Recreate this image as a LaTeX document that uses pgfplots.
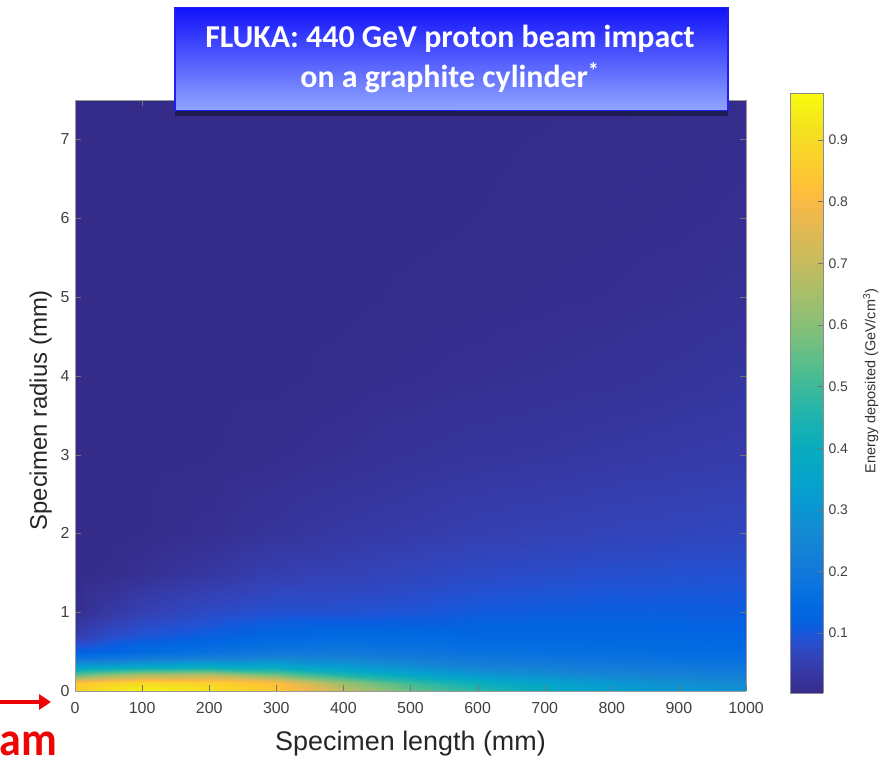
\documentclass[border=0pt]{standalone}
\usepackage{fontspec}
\setmainfont{Liberation Sans}
\newfontfamily\calibri{Carlito}
\usepackage{pgfplots}
\usepackage{pgfplotstable}
\pgfplotsset{compat=1.18}
\usetikzlibrary{shadows,arrows.meta}
\definecolor{tbtop}{rgb}{0.07,0.07,0.98}
\definecolor{tbbot}{rgb}{0.57,0.65,1.0}
\definecolor{tbedge}{rgb}{0.12,0.12,0.94}
\definecolor{beamred}{rgb}{0.93,0.02,0.02}
\pgfplotsset{colormap={parula}{
rgb=(0.2081,0.1663,0.5292) rgb=(0.2116,0.1898,0.5777) rgb=(0.2123,0.2138,0.6270) rgb=(0.2081,0.2386,0.6771)
rgb=(0.1959,0.2645,0.7279) rgb=(0.1707,0.2919,0.7792) rgb=(0.1253,0.3242,0.8303) rgb=(0.0591,0.3598,0.8683)
rgb=(0.0117,0.3875,0.8820) rgb=(0.0060,0.4086,0.8828) rgb=(0.0165,0.4266,0.8786) rgb=(0.0329,0.4430,0.8720)
rgb=(0.0498,0.4586,0.8641) rgb=(0.0629,0.4737,0.8554) rgb=(0.0723,0.4887,0.8467) rgb=(0.0779,0.5040,0.8384)
rgb=(0.0793,0.5200,0.8312) rgb=(0.0749,0.5375,0.8263) rgb=(0.0641,0.5570,0.8240) rgb=(0.0488,0.5772,0.8228)
rgb=(0.0343,0.5966,0.8199) rgb=(0.0265,0.6137,0.8135) rgb=(0.0239,0.6287,0.8038) rgb=(0.0231,0.6418,0.7913)
rgb=(0.0228,0.6535,0.7768) rgb=(0.0267,0.6642,0.7607) rgb=(0.0384,0.6743,0.7436) rgb=(0.0590,0.6838,0.7254)
rgb=(0.0843,0.6928,0.7062) rgb=(0.1133,0.7015,0.6859) rgb=(0.1453,0.7098,0.6646) rgb=(0.1801,0.7177,0.6424)
rgb=(0.2178,0.7250,0.6193) rgb=(0.2586,0.7317,0.5954) rgb=(0.3022,0.7376,0.5712) rgb=(0.3482,0.7424,0.5473)
rgb=(0.3953,0.7459,0.5244) rgb=(0.4420,0.7481,0.5033) rgb=(0.4871,0.7491,0.4840) rgb=(0.5300,0.7491,0.4661)
rgb=(0.5709,0.7485,0.4494) rgb=(0.6099,0.7473,0.4337) rgb=(0.6473,0.7456,0.4188) rgb=(0.6834,0.7435,0.4044)
rgb=(0.7184,0.7411,0.3905) rgb=(0.7525,0.7384,0.3768) rgb=(0.7858,0.7356,0.3633) rgb=(0.8185,0.7327,0.3498)
rgb=(0.8507,0.7299,0.3360) rgb=(0.8824,0.7274,0.3217) rgb=(0.9139,0.7258,0.3063) rgb=(0.9450,0.7261,0.2886)
rgb=(0.9739,0.7314,0.2666) rgb=(0.9938,0.7455,0.2403) rgb=(0.9990,0.7653,0.2164) rgb=(0.9955,0.7861,0.1967)
rgb=(0.9880,0.8066,0.1794) rgb=(0.9789,0.8271,0.1633) rgb=(0.9697,0.8481,0.1475) rgb=(0.9626,0.8705,0.1309)
rgb=(0.9589,0.8949,0.1132) rgb=(0.9598,0.9218,0.0948) rgb=(0.9661,0.9514,0.0755) rgb=(0.9763,0.9831,0.0538)
}}
% energy deposited (GeV/cm^3): x = length (mm), y = radius (mm)
\pgfplotstableread{
x y v
0 0 0.86
0 0.1 0.84
0 0.2 0.55
0 0.3 0.33
0 0.4 0.19
0 0.5 0.12
0 0.7 0.05
0 1.0 0.008
0 1.5 0.002
0 2.0 0.001
0 3.0 0.001
0 4.0 0.001
0 5.0 0.001
0 6.0 0.001
0 7.5 0.001
50 0 0.93
50 0.1 0.88
50 0.2 0.62
50 0.3 0.36
50 0.4 0.2
50 0.5 0.13
50 0.7 0.08
50 1.0 0.035
50 1.5 0.006
50 2.0 0.002
50 3.0 0.001
50 4.0 0.001
50 5.0 0.001
50 6.0 0.001
50 7.5 0.001
100 0 0.96
100 0.1 0.9
100 0.2 0.66
100 0.3 0.38
100 0.4 0.22
100 0.5 0.15
100 0.7 0.095
100 1.0 0.055
100 1.5 0.015
100 2.0 0.004
100 3.0 0.002
100 4.0 0.001
100 5.0 0.001
100 6.0 0.001
100 7.5 0.001
200 0 0.93
200 0.1 0.88
200 0.2 0.68
200 0.3 0.4
200 0.4 0.24
200 0.5 0.17
200 0.7 0.115
200 1.0 0.075
200 1.5 0.032
200 2.0 0.013
200 3.0 0.004
200 4.0 0.002
200 5.0 0.001
200 6.0 0.001
200 7.5 0.001
300 0 0.85
300 0.1 0.82
300 0.2 0.58
300 0.3 0.38
300 0.4 0.26
300 0.5 0.19
300 0.7 0.135
300 1.0 0.09
300 1.5 0.05
300 2.0 0.025
300 3.0 0.009
300 4.0 0.003
300 5.0 0.002
300 6.0 0.001
300 7.5 0.001
400 0 0.7
400 0.1 0.63
400 0.2 0.46
400 0.3 0.33
400 0.4 0.25
400 0.5 0.2
400 0.7 0.145
400 1.0 0.09
400 1.5 0.055
400 2.0 0.035
400 3.0 0.015
400 4.0 0.006
400 5.0 0.003
400 6.0 0.002
400 7.5 0.001
500 0 0.56
500 0.1 0.5
500 0.2 0.37
500 0.3 0.28
500 0.4 0.22
500 0.5 0.185
500 0.7 0.145
500 1.0 0.095
500 1.5 0.065
500 2.0 0.042
500 3.0 0.022
500 4.0 0.01
500 5.0 0.0055
500 6.0 0.003
500 7.5 0.002
600 0 0.47
600 0.1 0.41
600 0.2 0.31
600 0.3 0.24
600 0.4 0.2
600 0.5 0.17
600 0.7 0.14
600 1.0 0.105
600 1.5 0.075
600 2.0 0.05
600 3.0 0.027
600 4.0 0.013
600 5.0 0.007
600 6.0 0.0045
600 7.5 0.003
700 0 0.4
700 0.1 0.35
700 0.2 0.28
700 0.3 0.225
700 0.4 0.19
700 0.5 0.165
700 0.7 0.14
700 1.0 0.11
700 1.5 0.08
700 2.0 0.055
700 3.0 0.03
700 4.0 0.016
700 5.0 0.009
700 6.0 0.006
700 7.5 0.004
800 0 0.34
800 0.1 0.31
800 0.2 0.25
800 0.3 0.21
800 0.4 0.18
800 0.5 0.16
800 0.7 0.138
800 1.0 0.113
800 1.5 0.085
800 2.0 0.06
800 3.0 0.035
800 4.0 0.019
800 5.0 0.011
800 6.0 0.0075
800 7.5 0.0048
900 0 0.31
900 0.1 0.28
900 0.2 0.235
900 0.3 0.2
900 0.4 0.17
900 0.5 0.155
900 0.7 0.135
900 1.0 0.112
900 1.5 0.088
900 2.0 0.064
900 3.0 0.039
900 4.0 0.024
900 5.0 0.014
900 6.0 0.009
900 7.5 0.0055
1000 0 0.29
1000 0.1 0.26
1000 0.2 0.22
1000 0.3 0.19
1000 0.4 0.165
1000 0.5 0.15
1000 0.7 0.13
1000 1.0 0.11
1000 1.5 0.09
1000 2.0 0.068
1000 3.0 0.043
1000 4.0 0.03
1000 5.0 0.018
1000 6.0 0.012
1000 7.5 0.007
}\edep
% colour bar: scale values from 0.003 to 0.976
\pgfplotstableread{
x y v
0 0.003 0.003
1 0.003 0.003
0 0.05 0.05
1 0.05 0.05
0 0.1 0.1
1 0.1 0.1
0 0.15 0.15
1 0.15 0.15
0 0.2 0.2
1 0.2 0.2
0 0.25 0.25
1 0.25 0.25
0 0.3 0.3
1 0.3 0.3
0 0.35 0.35
1 0.35 0.35
0 0.4 0.4
1 0.4 0.4
0 0.45 0.45
1 0.45 0.45
0 0.5 0.5
1 0.5 0.5
0 0.55 0.55
1 0.55 0.55
0 0.6 0.6
1 0.6 0.6
0 0.65 0.65
1 0.65 0.65
0 0.7 0.7
1 0.7 0.7
0 0.75 0.75
1 0.75 0.75
0 0.8 0.8
1 0.8 0.8
0 0.85 0.85
1 0.85 0.85
0 0.9 0.9
1 0.9 0.9
0 0.95 0.95
1 0.95 0.95
0 0.976 0.976
1 0.976 0.976
}\cbar
\begin{document}
\begin{tikzpicture}
\path[use as bounding box] (0bp,0bp) rectangle (896bp,759bp);
\begin{axis}[
  at={(75bp,68bp)}, anchor=south west,
  scale only axis, width=671bp, height=591bp,
  view={0}{90},
  xmin=0, xmax=1000, ymin=0, ymax=7.5,
  xtick={0,100,...,1000}, ytick={0,1,...,7}, ztick=\empty,
  point meta min=0, point meta max=0.97,
  colormap name=parula,
  axis line style={draw=black!40},
  tick style={draw=black!55},
  tick align=inside,
  major tick length=6bp,
  ticklabel style={font=\fontsize{16}{18}\selectfont, text=black!75},
  xticklabel style={yshift=-8bp},
  yticklabel style={xshift=-2bp},
  /pgf/number format/assume math mode=true,
  /pgf/number format/1000 sep={},
  xlabel={Specimen length (mm)},
  ylabel={Specimen radius (mm)},
  xlabel style={font=\fontsize{27}{29}\selectfont, text=black!85, inner sep=0pt, at={(rel axis cs:0.5,0)}, anchor=north, yshift=-40bp},
  ylabel style={font=\fontsize{24}{26}\selectfont, text=black!85, inner sep=0pt, at={(rel axis cs:-0.0343,0.475)}, anchor=south},
  axis on top,
]
\addplot3[surf, shader=interp, mesh/cols=15, point meta=\thisrow{v}] table[x=x, y=y, z expr=0] {\edep};
\end{axis}
\begin{axis}[
  at={(790bp,66bp)}, anchor=south west,
  scale only axis, width=33bp, height=600bp,
  view={0}{90},
  xmin=0, xmax=1, ymin=0.003, ymax=0.976,
  xtick=\empty, ztick=\empty,
  ytick={0.1,0.2,0.3,0.4,0.5,0.6,0.7,0.8,0.9},
  ytick pos=right, yticklabel pos=right,
  point meta min=0, point meta max=0.97,
  colormap name=parula,
  tick align=inside,
  major tick length=5bp,
  axis line style={draw=black!45},
  tick style={draw=black!55},
  yticklabel style={font=\fontsize{14}{16}\selectfont, text=black!75, xshift=2bp,
    /pgf/number format/.cd, fixed, fixed zerofill, precision=1, assume math mode=true},
  ylabel={Energy deposited (GeV/cm\textsuperscript{3})},
  ylabel style={font=\fontsize{14.5}{16}\selectfont, text=black!80, inner sep=0pt, at={(rel axis cs:2.21,0.52)}, anchor=north},
  axis on top,
]
\addplot3[surf, shader=interp, mesh/cols=2, point meta=\thisrow{v}] table[x=x, y=y, z expr=0] {\cbar};
\end{axis}
\node[draw=tbedge, line width=1.5bp, top color=tbtop, bottom color=tbbot,
      minimum width=553bp, minimum height=103bp, anchor=north west,
      drop shadow={shadow xshift=0bp, shadow yshift=-5bp, fill=black, opacity=0.4}]
      at (174bp,752bp) {};
\node[text=white, font=\calibri\bfseries\fontsize{32}{40}\selectfont, anchor=base, inner sep=0pt]
      at (450bp,711bp) {FLUKA: 440 GeV proton beam impact};
\node[text=white, font=\calibri\bfseries\fontsize{32}{40}\selectfont, anchor=base, inner sep=0pt]
      at (450bp,671bp) {on a graphite cylinder\textsuperscript{*}};
\draw[beamred, line width=3.5bp, -{Triangle[length=12bp,width=15bp]}] (0bp,57bp) -- (51bp,57bp);
\node[text=beamred, font=\calibri\bfseries\fontsize{48}{50}\selectfont, anchor=base east, inner sep=0pt]
      at (57bp,4bp) {\scalebox{0.92}[1]{Beam}};
\end{tikzpicture}
\end{document}
